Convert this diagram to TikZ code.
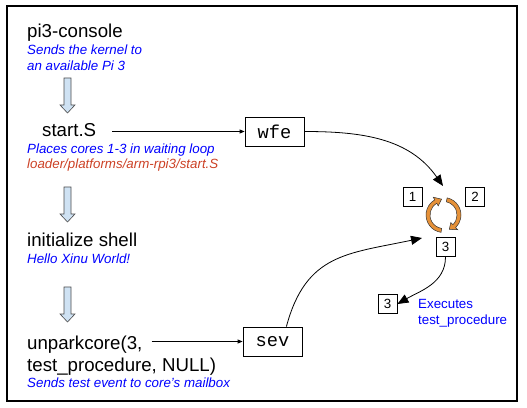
\documentclass[tikz,border=0pt]{standalone}
\usepackage{fontspec}
\setmainfont{Liberation Sans}
\setmonofont{Liberation Mono}
\usetikzlibrary{arrows.meta}

\definecolor{noteblue}{HTML}{0000FF}
\definecolor{pathred}{HTML}{CC4125}
\definecolor{loopfill}{HTML}{E69138}
\definecolor{blockfill}{HTML}{CFE2F3}
\newcommand\stepsize{\fontsize{18.67}{22.4}\selectfont}
\newcommand\notesize{\fontsize{13.33}{16}\selectfont}

\begin{document}
\begin{tikzpicture}[x=1pt,y=1pt,
    steplabel/.style={anchor=base west,inner sep=0pt,font=\stepsize},
    note/.style={anchor=base west,inner sep=0pt,text=noteblue,font=\notesize\itshape},
    execnote/.style={note,font=\notesize},
    instr/.style={draw,line width=0.8pt,minimum width=59pt,minimum height=29pt,inner sep=0pt,font=\stepsize\ttfamily},
    corebox/.style={draw,line width=0.8pt,minimum size=19pt,inner sep=0pt,font=\notesize},
    blockarrow/.style={draw=black!70,fill=blockfill,line width=0.6pt},
    cyclearc/.style={draw=black!80,fill=loopfill,line width=0.5pt},
    thinarrow/.style={line width=0.8pt,-{Triangle[length=5pt,width=4pt]}},
    bigarrow/.style={line width=0.8pt,-{Triangle[length=11pt,width=9pt]}}]
    \useasboundingbox (0,0) rectangle (527,407);
    \draw[line width=1.5pt] (7,6) rectangle (517,401);

    % boot steps on the left
    \node[steplabel] (console) at (27,369.3) {pi3-console};
    \node[note] (consolenote) at (27,352) {Sends the kernel to};
    \node[note] (consolenoteb) at (27,336.3) {an available Pi 3};
    \node[steplabel] (start) at (42,270.3) {start.S};
    \node[note] (startnote) at (27,253) {Places cores 1-3 in waiting loop};
    \node[note,text=pathred] (startpath) at (27,238) {loader/platforms/arm-rpi3/start.S};
    \node[steplabel] (shell) at (27,160.3) {initialize shell};
    \node[note] (shellnote) at (27,143.7) {Hello Xinu World!};
    \node[steplabel] (unpark) at (27,58) {unparkcore(3,};
    \node[steplabel] (unparkargs) at (27,36) {test\_procedure, NULL)};
    \node[note] (unparknote) at (27,19.5) {Sends test event to core’s mailbox};

    \foreach \top in {329,220,120}
        \draw[blockarrow] (64,\top) -- (71,\top) -- (71,\top-27) -- (75,\top-27)
            -- (67.5,\top-35) -- (60,\top-27) -- (64,\top-27) -- cycle;

    % instructions
    \node[instr] (wfe) at (274.5,275.5) {wfe};
    \node[instr] (sev) at (272.5,65.5) {sev};
    \draw[thinarrow,shorten <=16pt] (start.east |- wfe.west) -- (wfe.west);
    \draw[thinarrow,shorten <=9pt] (unpark.east |- sev.west) -- (sev.west);

    % cores and waiting loop
    \node[corebox] (core1) at (412.5,210) {1};
    \node[corebox] (core2) at (475,210) {2};
    \node[corebox] (core3) at (445.5,160) {3};
    \node[corebox] (core3b) at (387.5,103) {3};
    \node[execnote] (execnote) at (418,98.7) {Executes};
    \node[execnote] (execnoteb) at (418,83) {test\_procedure};

    \coordinate (cyc) at (443.5,192);
    \begin{scope}[shift={(cyc)}]
        \filldraw[cyclearc] (262:17.5) arc[start angle=262,end angle=120,radius=17.5]
            -- (120:20.5) -- (97:16) -- (120:10.5) -- (120:13.5)
            arc[start angle=120,end angle=262,radius=13.5] -- cycle;
        \filldraw[cyclearc] (78:17.5) arc[start angle=78,end angle=-46,radius=17.5]
            -- (-46:20.5) -- (-68:15.5) -- (-46:10.5) -- (-46:13.5)
            arc[start angle=-46,end angle=78,radius=13.5] -- cycle;
    \end{scope}
    \coordinate (cycletop) at (443,221);
    \coordinate (cyclein) at (422,169);

    \draw[bigarrow] (wfe.east) to[out=0,in=125] (cycletop);
    \draw[bigarrow] (sev.47) to[out=75,in=192,looseness=1.2] (cyclein);
    \draw[bigarrow] (core3.south) to[out=270,in=30] (core3b.east);
\end{tikzpicture}
\end{document}
